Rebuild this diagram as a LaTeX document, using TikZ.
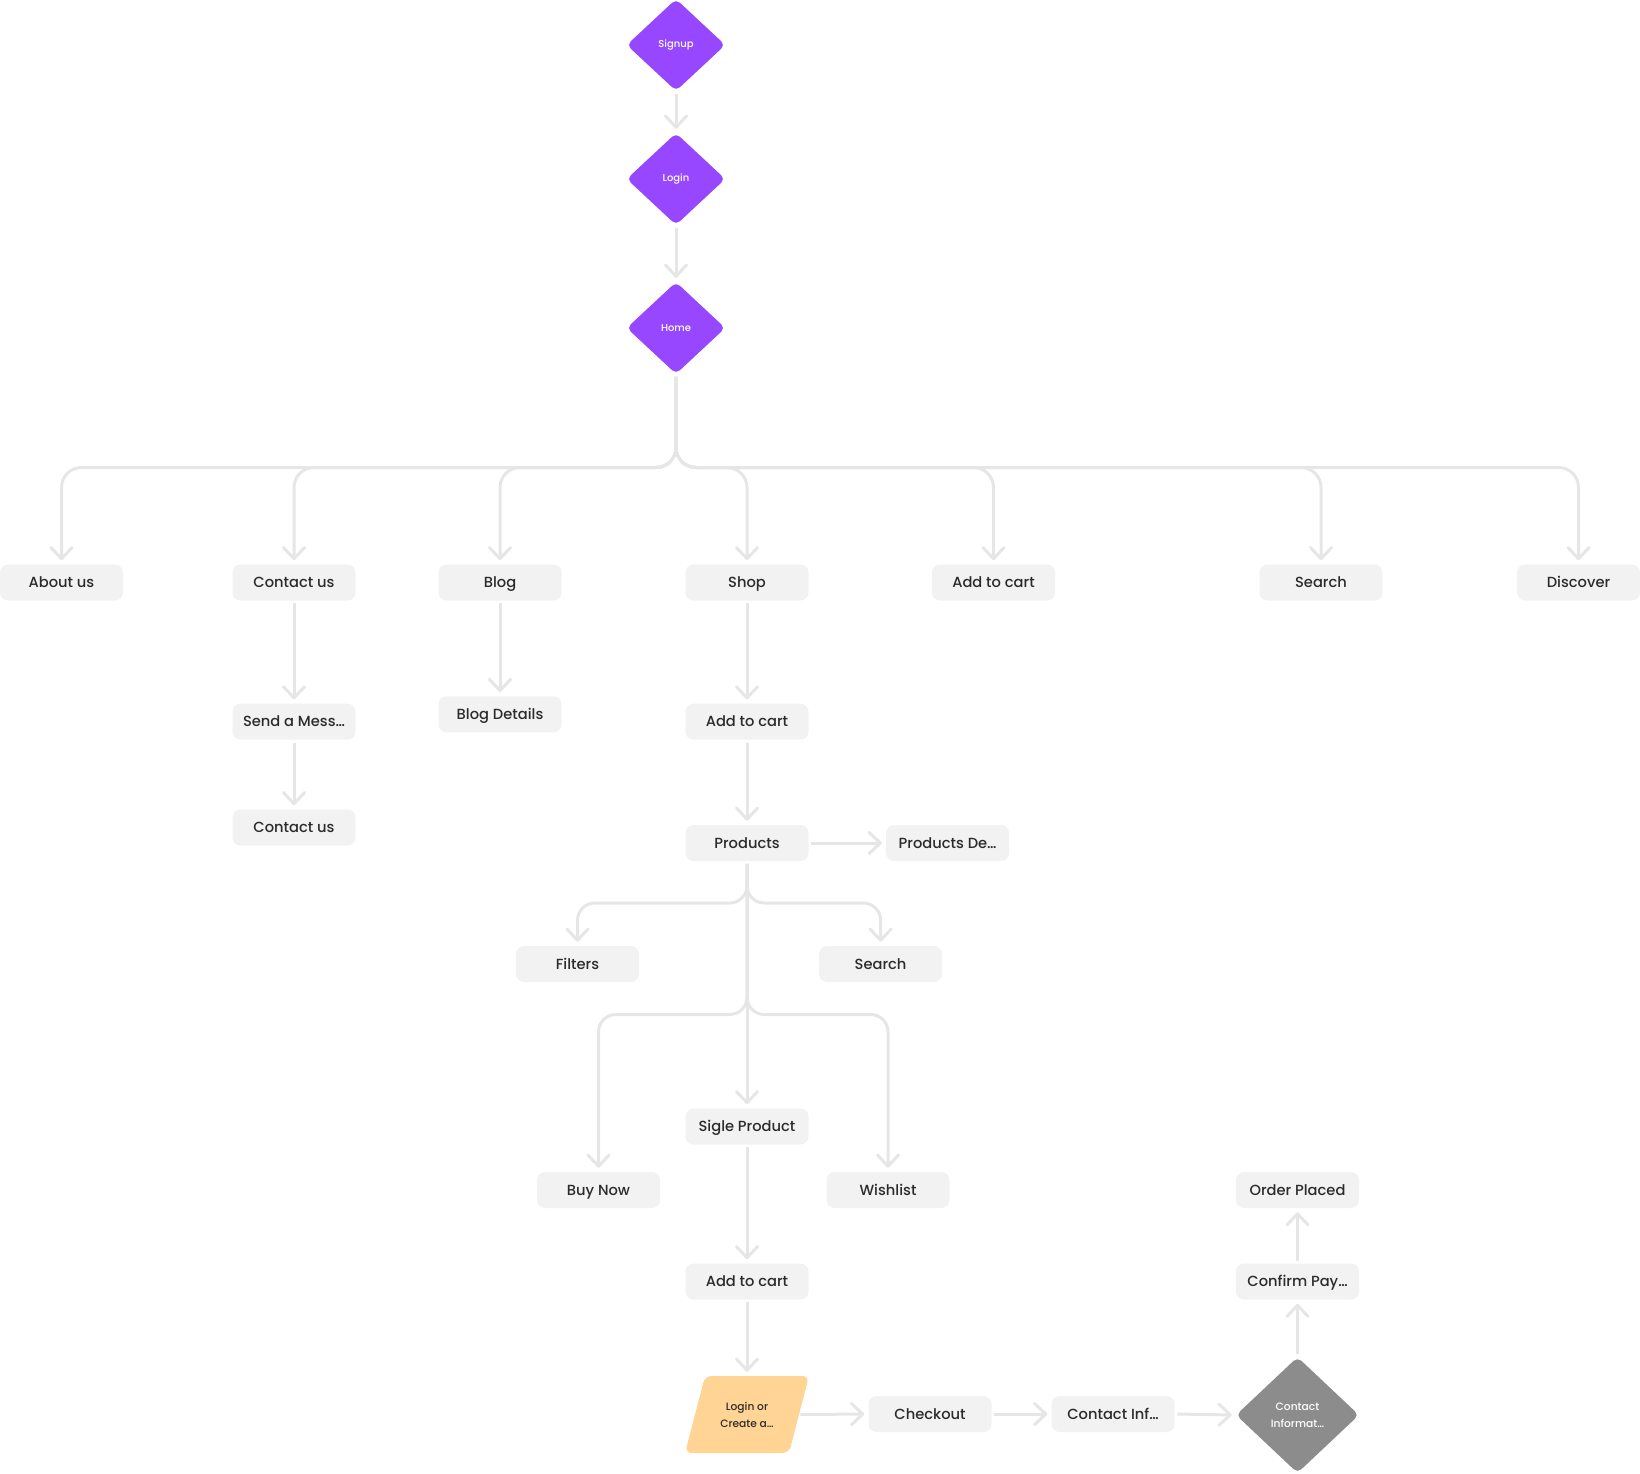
\documentclass[tikz,border=0pt]{standalone}
\usepackage{fontspec}
\setmainfont{Poppins}[UprightFont={* Medium}]
\usetikzlibrary{arrows.meta,shapes.geometric}
\definecolor{purp}{HTML}{9747FF}
\definecolor{boxfill}{HTML}{F2F2F2}
\definecolor{lc}{HTML}{E6E6E6}
\definecolor{txt}{HTML}{2B2B2B}
\definecolor{orng}{HTML}{FFD494}
\definecolor{grayd}{HTML}{8C8C8C}
\begin{document}
\begin{tikzpicture}[x=0.75pt,y=-0.75pt,
  box/.style={rectangle, rounded corners=6pt, fill=boxfill, minimum width=92.25pt, minimum height=27pt, inner sep=0pt, text=txt, text height=9.6pt, text depth=2pt, font=\fontsize{11}{13}\selectfont},
  dia/.style={diamond, fill=purp, minimum width=74pt, minimum height=69pt, inner sep=0pt, rounded corners=4pt, text=white, font=\fontsize{7.5}{9}\selectfont},
  gdia/.style={diamond, fill=grayd, minimum width=92.25pt, minimum height=87pt, inner sep=0pt, rounded corners=4pt, text=white, align=center, font=\fontsize{8}{12.75}\selectfont},
  para/.style={rectangle, minimum width=75.75pt, minimum height=57.75pt, inner sep=0pt, text=txt, align=center, font=\fontsize{8}{12.75}\selectfont},
  conn/.style={draw=lc, line width=2.25pt, rounded corners=15pt, shorten <=2pt, shorten >=3pt,
    -{Straight Barb[length=8.5pt,width=16pt,round]}},
  connb/.style={conn, rounded corners=13pt}
]
\useasboundingbox (0,0) rectangle (1640,1473);

% diamonds
\node[dia] (signup) at (676,45) {Signup};
\node[dia] (login) at (676,179) {Login};
\node[dia] (home) at (676,328) {Home};

% first row
\node[box] (about) at (61.5,582.5) {About us};
\node[box] (contact) at (294,582.5) {Contact us};
\node[box] (blog) at (500,582.5) {Blog};
\node[box] (shop) at (747,582.5) {Shop};
\node[box] (cartA) at (993.5,582.5) {Add to cart};
\node[box] (searchA) at (1321,582.5) {Search};
\node[box] (discover) at (1578.5,582.5) {Discover};

\node[box] (sendmsg) at (294,721.7) {Send a Mess…};
\node[box] (contactB) at (294,827.5) {Contact us};
\node[box] (blogdet) at (500,714.3) {Blog Details};
\node[box] (cartB) at (747,721.7) {Add to cart};
\node[box] (products) at (747,843) {Products};
\node[box] (proddet) at (947.6,843) {Products De…};
\node[box] (filters) at (577.5,964) {Filters};
\node[box] (searchB) at (880.6,964) {Search};
\node[box] (sigle) at (747,1126.5) {Sigle Product};
\node[box] (buynow) at (598.5,1190) {Buy Now};
\node[box] (wishlist) at (888,1190) {Wishlist};
\node[box] (cartC) at (747,1281.5) {Add to cart};

\fill[orng, rounded corners=5pt] (685,1453) -- (789,1453) -- (809,1376) -- (705,1376) -- cycle;
\node[para] (logcreate) at (747,1414.5) {Login or\\Create a…};
\node[box] (checkout) at (930,1414) {Checkout};
\node[box] (continf) at (1113,1414) {Contact Inf…};
\node[gdia] (continfd) at (1297.5,1415) {Contact\\Informat…};
\node[box] (confirm) at (1297.5,1281.5) {Confirm Pay…};
\node[box] (order) at (1297.5,1190) {Order Placed};

% bus coordinates
\coordinate (hbus) at (676,467.5);
\coordinate (pbus) at (747,903);
\coordinate (qbus) at (747,1014.5);

% connectors
\draw[conn] (signup.south) -- (login.north);
\draw[conn] (login.south) -- (home.north);
\foreach \t in {about,contact,blog,shop,cartA,searchA,discover}
  \draw[conn] (home.south) -- (hbus) -| (\t.north);
\draw[conn] (contact.south) -- (sendmsg.north);
\draw[conn] (sendmsg.south) -- (contactB.north);
\draw[conn] (blog.south) -- (blogdet.north);
\draw[conn] (shop.south) -- (cartB.north);
\draw[conn] (cartB.south) -- (products.north);
\draw[conn] (products.east) -- (proddet.west);
\draw[connb] (products.south) -- (pbus) -| (filters.north);
\draw[connb] (products.south) -- (pbus) -| (searchB.north);
\draw[connb] (products.south) -- (qbus) -| (buynow.north);
\draw[connb] (products.south) -- (qbus) -| (wishlist.north);
\draw[conn] (products.south) -- (sigle.north);
\draw[conn] (sigle.south) -- (cartC.north);
\draw[conn] (cartC.south) -- (logcreate.north);
\draw[conn] (logcreate.east) -- (checkout.west);
\draw[conn] (checkout.east) -- (continf.west);
\draw[conn] (continf.east) -- (continfd.west);
\draw[conn] (continfd.north) -- (confirm.south);
\draw[conn] (confirm.north) -- (order.south);
\end{tikzpicture}
\end{document}
